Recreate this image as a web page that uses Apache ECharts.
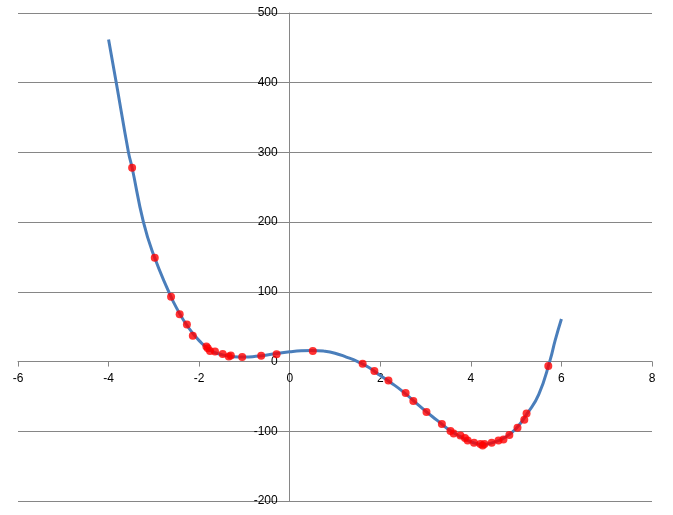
<!DOCTYPE html>
<html>
<head>
<meta charset="utf-8">
<script src="https://cdn.jsdelivr.net/npm/echarts@6/dist/echarts.min.js"></script>
<style>html,body{margin:0;padding:0;background:#fff}#c{width:673px;height:515px}</style>
</head>
<body>
<div id="c"></div>
<script>
// Smooth curve
var curveX = [-4.0,-3.83,-3.56,-3.48,-3.23,-3.0,-2.67,-2.5,-2.25,-2.0,-1.75,-1.5,-1.25,-1.0,-0.75,-0.5,-0.25,0,0.25,0.5,0.75,1.0,1.25,1.5,1.75,2.0,2.25,2.5,2.75,3.0,3.25,3.5,3.75,4.0,4.25,4.5,4.75,5.0,5.25,5.5,5.75,5.86,6.0];
var curveY = [462,400,300,278,200,152,100,77,50,30,16,10,7,6.5,7.5,9.5,12,14,15.5,16,15,12,6.5,0,-8.5,-20,-31,-43,-57,-71,-84,-97,-107,-115,-119,-116,-109,-96,-74,-47,2,30,61];
// Red sample points
var pointsX = [-3.48,-2.98,-2.62,-2.43,-2.27,-2.14,-1.84,-1.81,-1.76,-1.65,-1.48,-1.345,-1.30,-1.05,-0.63,-0.29,0.51,1.61,1.87,2.18,2.56,2.73,3.02,3.36,3.55,3.62,3.77,3.87,3.93,4.07,4.21,4.26,4.30,4.46,4.61,4.72,4.85,5.03,5.18,5.23,5.71];
var pointsY = [278,149,93,68,53,37,21.5,19,15.3,14.3,11,7.2,8.6,6.7,8.2,10.5,15.3,-3.3,-13.4,-27.3,-45,-56.4,-72.2,-89.4,-99.5,-103.3,-106.2,-109.5,-113.3,-116.6,-118.1,-120.5,-118.1,-116.6,-113.3,-111.9,-105.2,-95.1,-83.6,-74.6,-6.2];
var xTicks = {min:-6, max:8, interval:2};
var yTicks = {min:-200, max:500, interval:100};

var W = 673, H = 515;
var G = {left:18, right:21, top:13, bottom:14};
var plotW = W - G.left - G.right, plotH = H - G.top - G.bottom;
// place axes through the origin, like the reference
var yAxisOffset = -plotW * (0 - xTicks.min) / (xTicks.max - xTicks.min);
var xAxisOffset = -plotH * (0 - yTicks.min) / (yTicks.max - yTicks.min);

var curveData = curveX.map(function(x,i){return [x, curveY[i]];});
var pointData = pointsX.map(function(x,i){return [x, pointsY[i]];});
var gray = '#868686';
var font = 'Liberation Sans';
var chart = echarts.init(document.getElementById('c'));
chart.setOption({
  animation:false,
  backgroundColor:'#ffffff',
  grid:{left:G.left,right:G.right,top:G.top,bottom:G.bottom,containLabel:false,outerBoundsMode:'none'},
  xAxis:{type:'value',min:xTicks.min,max:xTicks.max,interval:xTicks.interval,
    position:'bottom',offset:xAxisOffset,
    axisLine:{onZero:false,lineStyle:{color:gray,width:1}},
    axisTick:{show:true,length:5,lineStyle:{color:gray}},
    axisLabel:{color:'#000',fontFamily:font,fontSize:12,margin:11},
    splitLine:{show:false}},
  yAxis:{type:'value',min:yTicks.min,max:yTicks.max,interval:yTicks.interval,
    position:'left',offset:yAxisOffset,
    axisLine:{show:true,onZero:false,lineStyle:{color:gray,width:1}},
    axisTick:{show:true,length:3,lineStyle:{color:gray}},
    axisLabel:{color:'#000',fontFamily:font,fontSize:12,margin:12},
    splitLine:{show:true,lineStyle:{color:gray,width:1}}},
  series:[
    {type:'line',data:curveData,smooth:0.5,showSymbol:false,symbol:'none',
     lineStyle:{color:'#4A7EBB',width:3},z:2},
    {type:'scatter',data:pointData,symbol:'circle',symbolSize:8,
     itemStyle:{color:'#FF0000'},z:3}
  ]
});
</script>
</body>
</html>
